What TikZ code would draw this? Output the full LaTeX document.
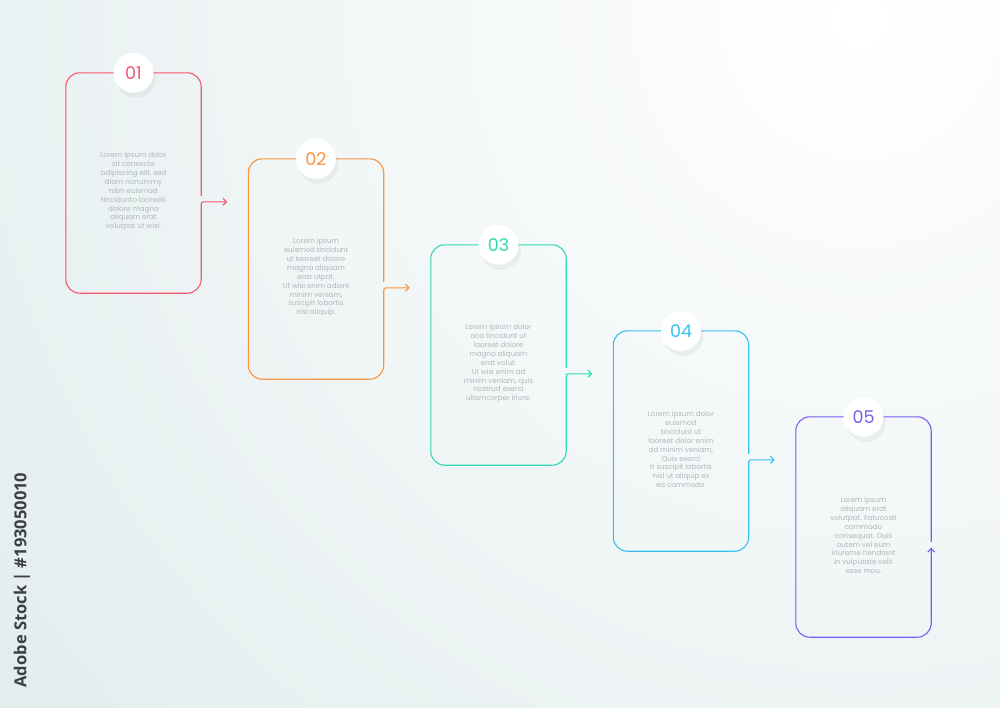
\documentclass[tikz,border=0pt]{standalone}
\usepackage{fontspec}
\setmainfont{Poppins}
\newfontfamily\wmfont{Open Sans}
\usetikzlibrary{calc,shadows,arrows.meta}
\definecolor{bgc}{HTML}{E2ECED}
\definecolor{txtc}{HTML}{B0B7BA}
\definecolor{wmc}{HTML}{3A3E40}
\definecolor{cA}{HTML}{F2566E}
\definecolor{cB}{HTML}{F7963F}
\definecolor{cC}{HTML}{30D9B2}
\definecolor{cD}{HTML}{38C0F0}
\definecolor{cE}{HTML}{7A5CF0}
\begin{document}
\begin{tikzpicture}[x=1pt,y=-1pt,
 stepbody/.style={minimum width=135pt, minimum height=220pt, inner sep=0pt, draw=none},
 bodytext/.style={font=\fontsize{7.1}{8.9}\selectfont, text=txtc, align=center, inner sep=0pt},
 numdisc/.style={circle, fill=white, minimum size=40pt, inner sep=0pt,
   drop shadow={shadow xshift=2.5pt, shadow yshift=-5pt, opacity=0.09},
   font=\fontsize{17.5}{17.5}\selectfont},
 outline/.style={line width=1.1pt, rounded corners=14pt},
 tip/.style={line width=1.1pt, -{Straight Barb[length=3.5pt,width=7pt]}},
]
% background
\fill[bgc] (0,0) rectangle (1000,707);
\begin{scope}
  \clip (0,0) rectangle (1000,707);
  \shade[inner color=white, outer color=bgc] (860,20) circle (1150);
\end{scope}
\useasboundingbox (0,0) rectangle (1000,707);

% boxes
\node[stepbody] (b1) at (133.5,183) {};
\node[stepbody] (b2) at (316,269) {};
\node[stepbody] (b3) at (498.5,355) {};
\node[stepbody] (b4) at (681,441) {};
\node[stepbody] (b5) at (863.5,527) {};

% outlines and arrows for boxes 1-4
\foreach \b/\c/\n in {b1/cA/a1,b2/cB/a2,b3/cC/a3,b4/cD/a4}{
  \coordinate (\n) at ($(\b.north east)+(26,129)$);
  \draw[outline, \c] ($(\b.north east)+(0,123)$) -- (\b.north east) -- (\b.north west)
     -- (\b.south west) -- (\b.south east) -- ($(\b.north east)+(0,134)$);
  \draw[tip, \c] ($(\b.north east)+(0,134)$) .. controls ($(\b.north east)+(0,129)$) ..
     ($(\b.north east)+(5,129)$) -- (\n);
}
% box 5
\coordinate (a5) at ($(b5.north east)+(0,131)$);
\draw[outline, cE] ($(b5.north east)+(0,125)$) -- (b5.north east) -- (b5.north west)
   -- (b5.south west) -- (b5.south east) -- (a5);
\draw[tip, cE] ($(b5.north east)+(0,140)$) -- (a5);

% body texts
\node[bodytext] (t1) at (133.5,191.5) {Lorem ipsum dolor\\sit consecte\\adipiscing elit, sed\\diam nonummy\\nibh euismod\\tincidunto laoreeti\\dolore magna\\aliquam erat\\volutpat ut wisi.};
\node[bodytext] (t2) at (316,277.5) {Lorem ipsum\\euismod tincidunt\\ut laoreet dolore\\magna aliquam\\erat utpat.\\Ut wisi enim adioni\\minim veniam,\\suscipit lobortis\\nisl aliquip.};
\node[bodytext] (t3) at (498.5,363.5) {Lorem ipsum dolor\\oca tincidunt ut\\laoreet dolore\\magna aliquam\\erat volut.\\Ut wisi enim ad\\minim veniam, quis\\nostrud exerci\\ullamcorper iriure.};
\node[bodytext] (t4) at (681,449.5) {Lorem ipsum dolor\\euismod\\tincidunt ut\\laoreet dolor enim\\ad minim veniam,\\Quis exerci\\ti suscipit lobortis\\nisl ut aliquip ex\\ea commodo.};
\node[bodytext] (t5) at (863.5,535.5) {Lorem ipsum\\aliquam erat\\volutpat. Eatucosti\\commodo\\consequat. Duis\\autem vel eum\\iriureme hendrerit\\in vulputate velit\\esse mou.};

% number discs
\node[numdisc, text=cA] (n1) at (b1.north) {01};
\node[numdisc, text=cB] (n2) at (b2.north) {02};
\node[numdisc, text=cC] (n3) at (b3.north) {03};
\node[numdisc, text=cD] (n4) at (b4.north) {04};
\node[numdisc, text=cE] (n5) at (b5.north) {05};

% vertical label
\node[rotate=90, font=\wmfont\bfseries\fontsize{16.5}{16.5}\selectfont, text=wmc, inner sep=0pt] (wm) at (22,580) {Adobe Stock | \#193050010};
\end{tikzpicture}
\end{document}
